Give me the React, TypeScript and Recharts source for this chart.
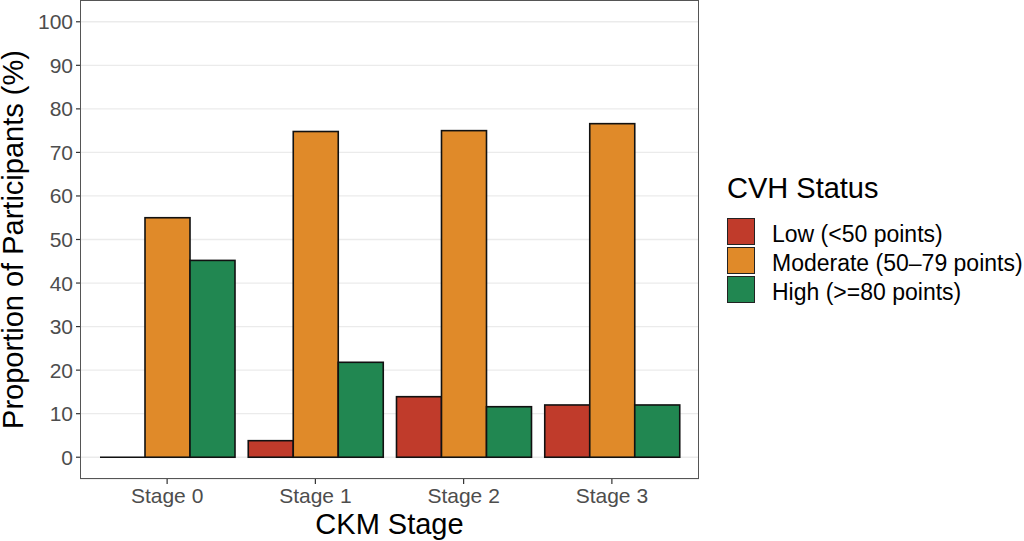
import React from "react";
import {
  Bar,
  BarChart,
  CartesianGrid,
  XAxis,
  YAxis,
} from "recharts";

const stages = ["Stage 0", "Stage 1", "Stage 2", "Stage 3"];
const low = [0, 3.8, 13.9, 12.0];
const moderate = [55.0, 74.8, 75.0, 76.6];
const high = [45.2, 21.8, 11.6, 12.0];
const yTicks = [0, 10, 20, 30, 40, 50, 60, 70, 80, 90, 100];

const series = [
  { key: "low", name: "Low (<50 points)", color: "#C03B2B" },
  { key: "moderate", name: "Moderate (50\u201379 points)", color: "#E08A29" },
  { key: "high", name: "High (>=80 points)", color: "#218751" },
];

const data = stages.map((stage, i) => ({
  stage,
  low: low[i],
  moderate: moderate[i],
  high: high[i],
}));

const FONT = "'Liberation Sans', Arial, sans-serif";

// zero-height bars still show as a black line, like ggplot
function BarShape(props: any) {
  const { x, y, width, height, fill } = props;
  if (!height) {
    return <line x1={x} x2={x + width} y1={y} y2={y} stroke="#111" strokeWidth={1.6} />;
  }
  return <rect x={x} y={y} width={width} height={height} fill={fill} stroke="#111" strokeWidth={1.6} />;
}

function LegendBox() {
  return (
    <div style={{ position: "absolute", left: 727, top: 174, width: 297, fontFamily: FONT, color: "#000" }}>
      <div style={{ fontSize: 29, lineHeight: "29px", height: 29, marginBottom: 14 }}>CVH Status</div>
      {series.map((s) => (
        <div key={s.key} style={{ display: "flex", alignItems: "center", height: 29 }}>
          <div
            style={{
              width: 28,
              height: 27,
              background: s.color,
              border: "1.5px solid #222",
              boxSizing: "border-box",
              marginRight: 17,
              flex: "none",
            }}
          />
          <span style={{ fontSize: 23, whiteSpace: "nowrap", position: "relative", top: 3 }}>{s.name}</span>
        </div>
      ))}
    </div>
  );
}

export default function App() {
  return (
    <div style={{ position: "absolute", left: 0, top: 0, width: 1024, height: 541, background: "#fff", overflow: "hidden" }}>
      <BarChart
        width={1024}
        height={541}
        data={data}
        margin={{ top: 0, right: 325, bottom: 0, left: 0 }}
        barGap={0}
        barCategoryGap={7}
      >
        <CartesianGrid vertical={false} stroke="#EBEBEB" strokeWidth={1.3} />
        <XAxis
          dataKey="stage"
          padding={{ left: 13, right: 13 }}
          height={62}
          tickSize={5}
          tickMargin={4}
          axisLine={false}
          tickLine={{ stroke: "#333", strokeWidth: 1.2 }}
          tick={{ fill: "#4D4D4D", fontSize: 21, fontFamily: FONT }}
          label={{ value: "CKM Stage", position: "insideBottom", offset: 7, fill: "#000", fontSize: 29, fontFamily: FONT }}
        />
        <YAxis
          domain={[-5, 105]}
          ticks={yTicks}
          width={80}
          tickSize={4}
          tickMargin={3}
          axisLine={false}
          tickLine={{ stroke: "#333", strokeWidth: 1.2 }}
          tick={{ fill: "#4D4D4D", fontSize: 21, fontFamily: FONT }}
          label={{ value: "Proportion of Participants (%)", angle: -90, position: "insideLeft", offset: 13, fill: "#000", fontSize: 29, fontFamily: FONT, style: { textAnchor: "middle" } }}
        />
        {series.map((s) => (
          <Bar
            key={s.key}
            dataKey={s.key}
            name={s.name}
            fill={s.color}
            shape={<BarShape />}
            isAnimationActive={false}
          />
        ))}
      </BarChart>
      {/* panel border (theme_bw) */}
      <div
        style={{
          position: "absolute",
          left: 80,
          top: 0,
          width: 619,
          height: 479,
          border: "1.3px solid #555",
          boxSizing: "border-box",
          pointerEvents: "none",
        }}
      />
      <LegendBox />
    </div>
  );
}
